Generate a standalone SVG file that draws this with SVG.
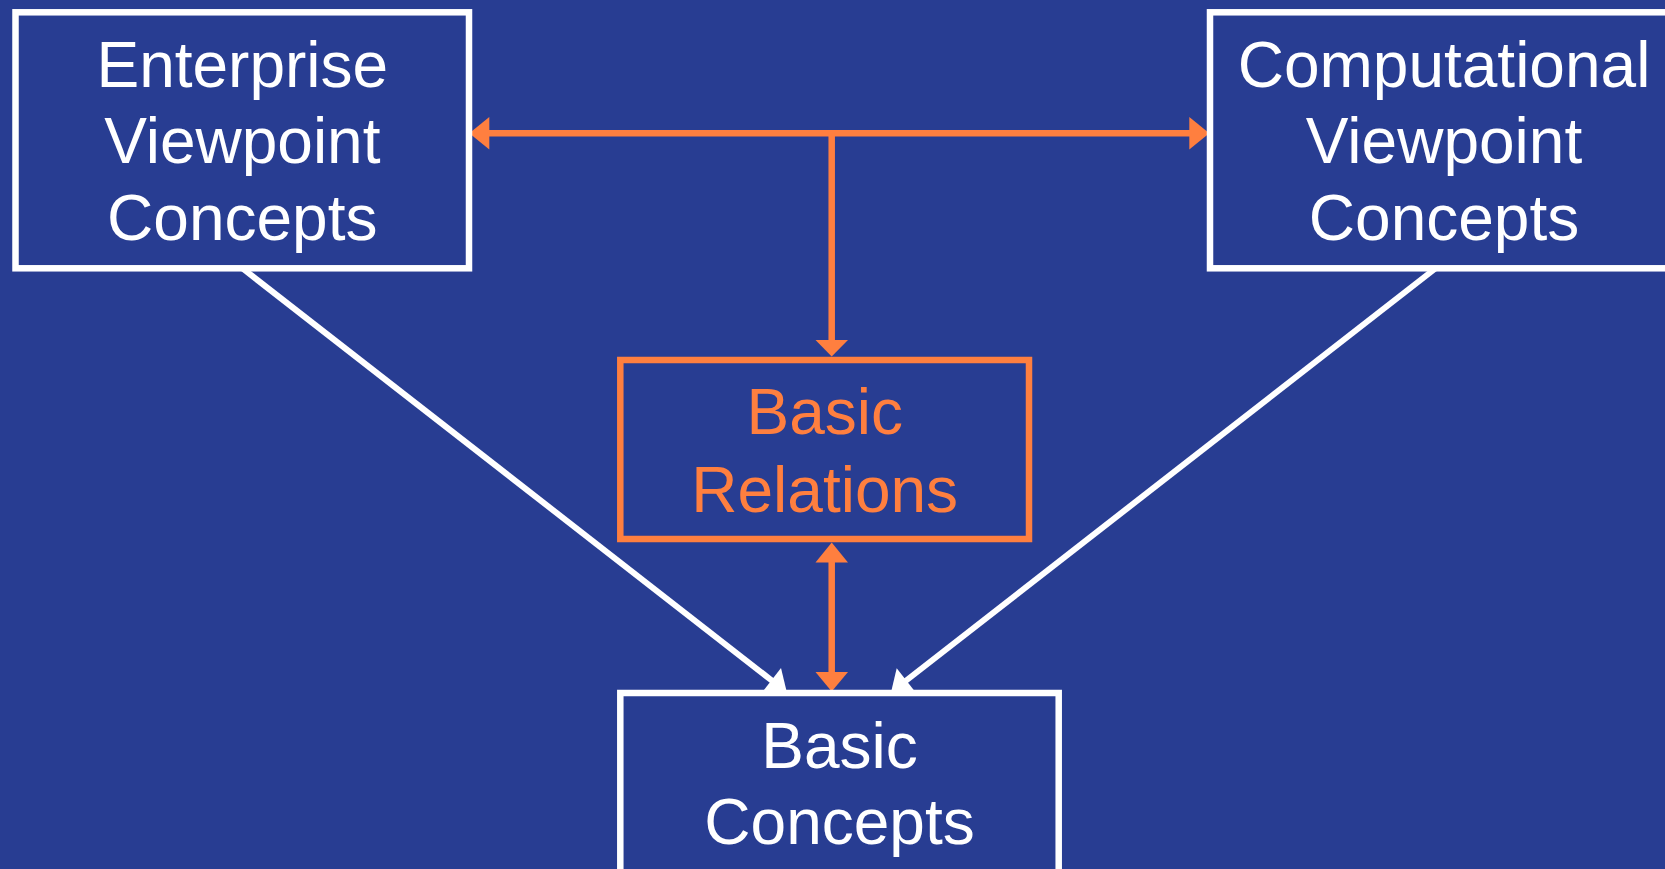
<svg xmlns="http://www.w3.org/2000/svg" width="1665" height="869" viewBox="0 0 1665 869">
<style>
.bg{fill:#283D92}
.box{fill:#283D92;stroke:#FFFFFF;stroke-width:6.5}
.obox{fill:#283D92;stroke:#FF7F3F;stroke-width:6.5}
.t{font-family:"Liberation Sans",Arial,sans-serif;font-size:64px;fill:#FFFFFF;text-anchor:middle}
.ot{fill:#FF7F3F}
.wl{stroke:#FFFFFF;stroke-width:6;fill:none}
.wh{fill:#FFFFFF}
.ol{stroke:#FF7F3F;stroke-width:6.5;fill:none}
.oh{fill:#FF7F3F}
</style>
<rect class="bg" x="0" y="0" width="1665" height="869"/>
<g id="connectors">
<line class="wl" x1="242" y1="268" x2="775" y2="683"/>
<polygon class="wh" points="787,693 761.4,693.2 781,668"/>
<line class="wl" x1="1436" y1="268" x2="903" y2="683"/>
<polygon class="wh" points="890.8,693.2 916.5,693.5 896.7,668.3"/>
<line class="ol" x1="487" y1="133.3" x2="1192" y2="133.3"/>
<polygon class="oh" points="469.3,133.3 489.3,117 489.3,149.6"/>
<polygon class="oh" points="1209.3,133.3 1189.3,117 1189.3,149.6"/>
<line class="ol" x1="831.7" y1="133.3" x2="831.7" y2="342"/>
<polygon class="oh" points="831.7,356.5 815.5,340 848,340"/>
<line class="ol" x1="831.7" y1="560" x2="831.7" y2="674"/>
<polygon class="oh" points="831.7,542.5 815.5,562.5 848,562.5"/>
<polygon class="oh" points="831.7,691.5 815.5,672 848,672"/>
</g>
<g id="enterprise">
<rect class="box" x="15.5" y="12.3" width="453.5" height="256"/>
<text class="t" x="242.3" y="87.3">Enterprise</text>
<text class="t" x="242.3" y="163.3">Viewpoint</text>
<text class="t" x="242.3" y="240">Concepts</text>
</g>
<g id="computational">
<rect class="box" x="1210" y="12.3" width="470" height="256"/>
<text class="t" x="1444" y="87.3">Computational</text>
<text class="t" x="1444" y="163.3">Viewpoint</text>
<text class="t" x="1444" y="240">Concepts</text>
</g>
<g id="basic-relations">
<rect class="obox" x="620.3" y="360" width="408.7" height="179"/>
<text class="t ot" x="824.7" y="434.3">Basic</text>
<text class="t ot" x="824.7" y="511.7">Relations</text>
</g>
<g id="basic-concepts">
<rect class="box" x="620.3" y="693" width="438.4" height="200"/>
<text class="t" x="839.5" y="767.7">Basic</text>
<text class="t" x="839.5" y="844">Concepts</text>
</g>
</svg>
